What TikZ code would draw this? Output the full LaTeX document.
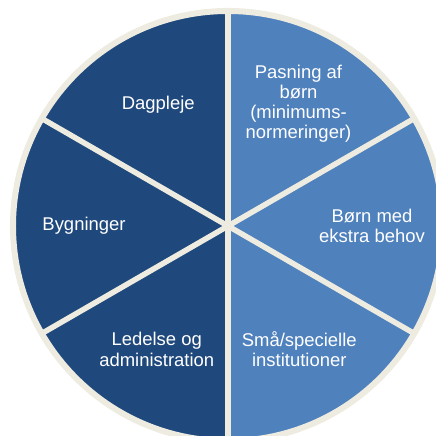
\documentclass[tikz,border=0pt]{standalone}
\usepackage{fontspec}
\setmainfont{Liberation Sans}
\usetikzlibrary{calc}
\definecolor{pieDark}{HTML}{1F497D}
\definecolor{pieLight}{HTML}{4F81BD}
\definecolor{pieRim}{HTML}{EEECE1}
\tikzset{
  sector label/.style={text=white, align=center, font=\fontsize{17.5}{19}\selectfont},
  divider/.style={pieRim, line width=5.2pt},
}
\begin{document}
\begin{tikzpicture}
    \useasboundingbox (0,0) rectangle (14.5,14.533);
    \coordinate (c) at (7.6,7.0); % Centre of the wheel

    \fill[pieDark] ($(c)+(0,7.167)$) arc[start angle=90, end angle=270, radius=7.167] -- cycle; % Left half
    \fill[pieLight] ($(c)+(0,-7.167)$) arc[start angle=-90, end angle=90, radius=7.167] -- cycle; % Right half

    \foreach \a in {30,90,150,210,270,330}
        \draw[divider] (c) -- ++(\a:7.167); % Spokes
    \draw[pieRim, line width=5.7pt] (c) circle (7.167); % Rim

    \node[sector label] (dagpleje) at ($(c)+(120:4.65)$) {Dagpleje};
    \node[sector label] (pasning) at ($(c)+(60:4.7)$) {Pasning af\\børn\\(minimums-\\normeringer)};
    \node[sector label] (bygninger) at ($(c)+(180:4.8)$) {Bygninger};
    \node[sector label] (boern) at ($(c)+(0:4.8)$) {Børn med\\ekstra behov};
    \node[sector label] (ledelse) at ($(c)+(240:4.75)$) {Ledelse og\\administration};
    \node[sector label] (smaa) at ($(c)+(300:4.75)$) {Små/specielle\\institutioner};
\end{tikzpicture}
\end{document}
